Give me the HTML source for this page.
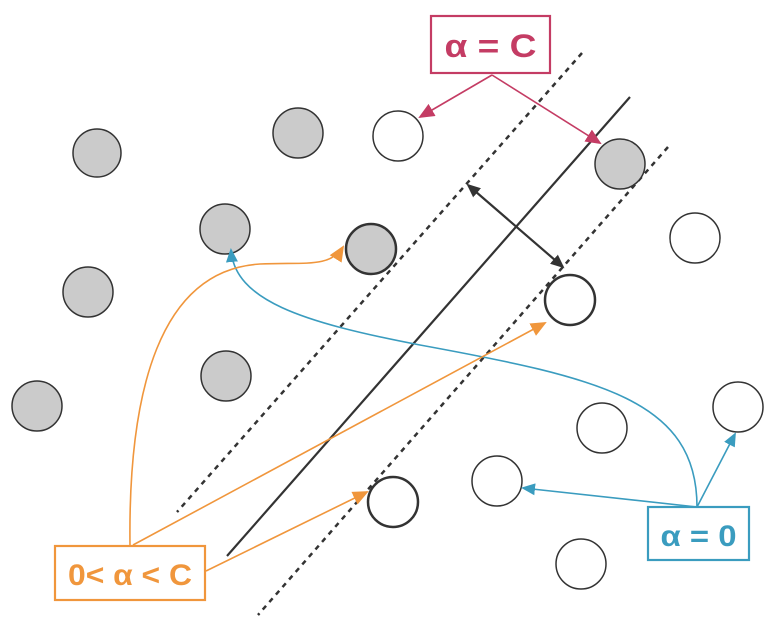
<!DOCTYPE html>
<html><head><meta charset="utf-8"><style>
html,body{margin:0;padding:0;background:#fff;}
svg{display:block;}
</style></head><body>
<svg width="784" height="635" viewBox="0 0 784 635" xmlns="http://www.w3.org/2000/svg">
<defs>
<marker id="mp" markerWidth="16" markerHeight="14" refX="14" refY="7" orient="auto" markerUnits="userSpaceOnUse" viewBox="0 0 16 14"><path d="M0,0 L16,7 L0,14 z" fill="#c43c64"/></marker>
<marker id="mo" markerWidth="16" markerHeight="14" refX="14" refY="7" orient="auto" markerUnits="userSpaceOnUse" viewBox="0 0 16 14"><path d="M0,0 L16,7 L0,14 z" fill="#f0963c"/></marker>
<marker id="mt" markerWidth="14" markerHeight="12" refX="12" refY="6" orient="auto" markerUnits="userSpaceOnUse" viewBox="0 0 14 12"><path d="M0,0 L14,6 L0,12 z" fill="#3a9cbf"/></marker>
<marker id="mk" markerWidth="14" markerHeight="12" refX="12" refY="6" orient="auto-start-reverse" markerUnits="userSpaceOnUse" viewBox="0 0 14 12"><path d="M0,0 L14,6 L0,12 z" fill="#333"/></marker>
</defs>
<g stroke="#333" stroke-width="2.2">
<line x1="630" y1="97" x2="227" y2="556"/>
<line x1="582" y1="53" x2="177" y2="512" stroke-dasharray="5,5" stroke-width="2.5"/>
<line x1="668" y1="147" x2="258" y2="615" stroke-dasharray="5,5" stroke-width="2.5"/>
<line x1="468" y1="185" x2="563" y2="267" marker-start="url(#mk)" marker-end="url(#mk)"/>
</g>
<g stroke="#333" stroke-width="1.5" fill="#cbcbcb">
<circle cx="97" cy="153" r="24"/><circle cx="298" cy="133" r="25"/><circle cx="225" cy="229" r="25"/>
<circle cx="88" cy="292" r="25"/><circle cx="226" cy="376" r="25"/><circle cx="37" cy="406" r="25"/>
<circle cx="620" cy="164" r="25"/><circle cx="371" cy="249" r="25" stroke-width="2.5"/>
</g>
<g stroke="#333" stroke-width="1.5" fill="#fff">
<circle cx="398" cy="136" r="25"/><circle cx="695" cy="238" r="25"/><circle cx="570" cy="300" r="25" stroke-width="2.5"/>
<circle cx="602" cy="428" r="25"/><circle cx="738" cy="407" r="25"/><circle cx="497" cy="481" r="25"/>
<circle cx="393" cy="502" r="25" stroke-width="2.5"/><circle cx="581" cy="564" r="25"/>
</g>
<g stroke="#c43c64" stroke-width="1.6" fill="none">
<line x1="492" y1="75" x2="420" y2="117" marker-end="url(#mp)"/>
<line x1="492" y1="75" x2="600" y2="143" marker-end="url(#mp)"/>
</g>
<g stroke="#3a9cbf" stroke-width="1.6" fill="none">
<line x1="697" y1="507" x2="523" y2="488" marker-end="url(#mt)"/>
<line x1="697" y1="507" x2="735" y2="434" marker-end="url(#mt)"/>
<path d="M697,507 C697,400 600,378 420,345 C300,322 235,300 231,250" marker-end="url(#mt)"/>
</g>
<g stroke="#f0963c" stroke-width="1.6" fill="none">
<path d="M130,546 C128,390 160,270 260,264 C305,262 330,268 343,247" marker-end="url(#mo)"/>
<line x1="133" y1="545" x2="545" y2="323" marker-end="url(#mo)"/>
<line x1="206" y1="571" x2="367" y2="492" marker-end="url(#mo)"/>
</g>
<rect x="431" y="16" width="119" height="57" fill="#fff" stroke="#c43c64" stroke-width="2.2"/>
<text x="490.5" y="57" text-anchor="middle" font-family="Liberation Sans, sans-serif" font-weight="bold" font-size="32" fill="#c43c64" textLength="92" lengthAdjust="spacingAndGlyphs">α = C</text>
<rect x="648" y="507" width="101" height="53" fill="#fff" stroke="#3a9cbf" stroke-width="2.2"/>
<text x="698.5" y="546" text-anchor="middle" font-family="Liberation Sans, sans-serif" font-weight="bold" font-size="30" fill="#3a9cbf" textLength="76" lengthAdjust="spacingAndGlyphs">α = 0</text>
<rect x="55" y="546" width="150" height="54" fill="#fff" stroke="#f0963c" stroke-width="2.2"/>
<text x="130" y="585" text-anchor="middle" font-family="Liberation Sans, sans-serif" font-weight="bold" font-size="30" fill="#f0963c" textLength="124" lengthAdjust="spacingAndGlyphs">0&lt; α &lt; C</text>
</svg>
</body></html>
